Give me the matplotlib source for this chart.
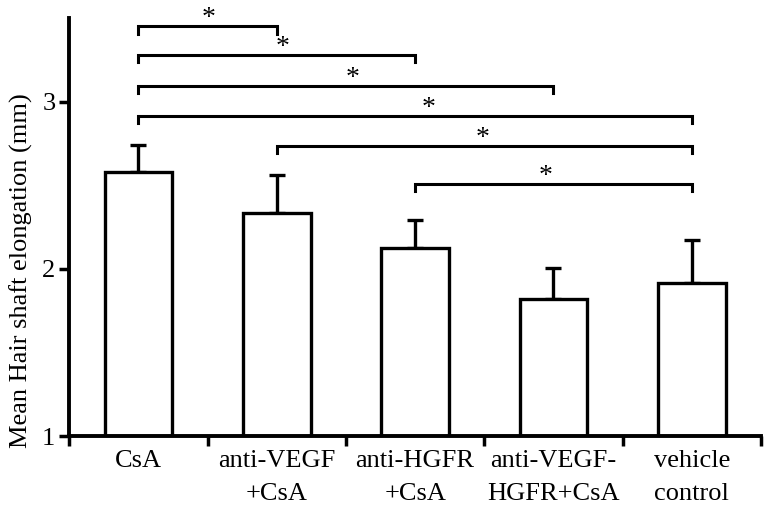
import numpy as np
import matplotlib
matplotlib.use("Agg")
import matplotlib.pyplot as plt

plt.rcParams['font.family'] = ['Liberation Serif', 'DejaVu Serif']

groups = ['CsA', 'anti-VEGF\n+CsA', 'anti-HGFR\n+CsA', 'anti-VEGF-\nHGFR+CsA', 'vehicle\ncontrol']
means = [2.58, 2.335, 2.125, 1.82, 1.915]
errs = [0.16, 0.225, 0.165, 0.185, 0.255]

# significance brackets: (left group, right group, height)
brackets = [(0, 1, 3.45), (0, 2, 3.28), (0, 3, 3.095), (0, 4, 2.915), (1, 4, 2.735), (2, 4, 2.51)]
star_x = [0.51, 1.04, 1.55, 2.1, 2.49, 2.94]

fig = plt.figure(figsize=(7.78, 5.13), dpi=100)
ax = fig.add_axes([0.089, 0.15, 0.889, 0.815])

x = np.arange(len(groups))
ax.bar(x, np.array(means) - 1, bottom=1, width=0.49, color='white', edgecolor='black',
       linewidth=2.4, zorder=2)
ax.errorbar(x, means, yerr=[np.zeros(len(errs)), errs], fmt='none', ecolor='black',
            elinewidth=2.4, capsize=5.5, capthick=2.4, zorder=1)

drop = 0.045
for (a, b, h), sx in zip(brackets, star_x):
    ax.plot([a, a, b, b], [h - drop, h, h, h - drop], color='black', lw=2.2,
            solid_joinstyle='miter', clip_on=False)
    ax.text(sx, h + 0.005, '*', ha='center', va='baseline', fontsize=20)

ax.set_xlim(-0.5, 4.5)
ax.set_ylim(1, 3.5)
ax.set_yticks([1, 2, 3])
ax.set_xticks(np.arange(-0.5, 5, 1))
ax.set_xticklabels([])
ax.set_xticks(x, minor=True)
ax.set_xticklabels(groups, minor=True, fontsize=19, linespacing=1.65)
ax.tick_params(axis='x', which='minor', length=0, pad=10)
ax.tick_params(axis='x', which='major', length=7, width=2.5, direction='out')
ax.tick_params(axis='y', length=7, width=2.5, labelsize=19, pad=3)

for s in ['top', 'right']:
    ax.spines[s].set_visible(False)
for s in ['left', 'bottom']:
    ax.spines[s].set_linewidth(2.8)

ax.set_ylabel('Mean Hair shaft elongation (mm)', fontsize=19)
ax.yaxis.set_label_coords(-0.052, 0.396)

fig.savefig('out.png', dpi=100)
